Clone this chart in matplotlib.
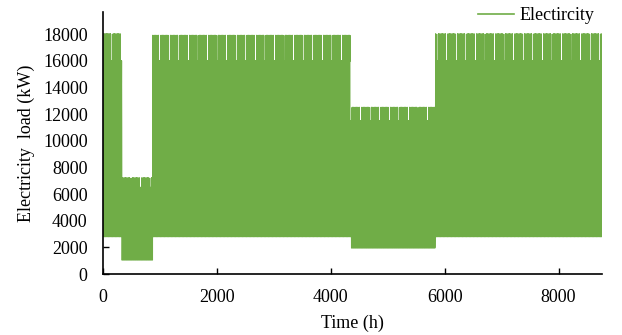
import numpy as np
import matplotlib.pyplot as plt

# periods of the year (hour ranges) with their load levels in kW
seg_start = [0, 330, 870, 4350, 5830]
seg_end = [330, 870, 4350, 5830, 8760]
seg_base = [2800, 1050, 2800, 1950, 2800]
seg_peak = [18000, 7200, 17900, 12500, 18000]
seg_weekend_peak = [16000, 6500, 16000, 11500, 16000]

# hourly shape of one day, as a fraction between base and peak
day_shape = [0, 0, 0, 0, 0, 0, 0.3, 0.62, 1.0, 1.0, 0.87, 1.0,
             0.87, 1.0, 1.0, 0.87, 0.87, 0.62, 0.3, 0, 0, 0, 0, 0]

xticks = [0, 2000, 4000, 6000, 8000]
yticks = [0, 2000, 4000, 6000, 8000, 10000, 12000, 14000, 16000, 18000]

hours = np.arange(8760)
load = np.zeros(8760)
for s, e, b, p, wp in zip(seg_start, seg_end, seg_base, seg_peak, seg_weekend_peak):
    for h in range(s, e):
        day = h // 24
        top = wp if day % 7 == 6 else p
        load[h] = b + day_shape[h % 24] * (top - b)

plt.rcParams['font.family'] = ['Liberation Serif', 'DejaVu Serif']
plt.rcParams['font.size'] = 13

fig = plt.figure(figsize=(6.22, 3.35), dpi=100)
ax = fig.add_axes([0.1656, 0.182, 0.802, 0.782])
ax.plot(hours, load, color='#70AD47', lw=0.8, label='Electircity')

ax.set_xlim(0, 8760)
ax.set_ylim(0, 19650)
ax.set_xticks(xticks)
ax.set_yticks(yticks)
ax.tick_params(direction='in', length=4, width=1, labelsize=13)
ax.tick_params(axis='x', pad=11)
ax.tick_params(axis='y', pad=11)
ax.spines['top'].set_visible(False)
ax.spines['right'].set_visible(False)
ax.spines['left'].set_linewidth(1.2)
ax.spines['bottom'].set_linewidth(1.2)
ax.set_xlabel('Time (h)', fontsize=13, labelpad=6)
ax.set_ylabel('Electricity  load (kW)', fontsize=13, labelpad=6)

leg = ax.legend(loc='upper right', bbox_to_anchor=(1.0, 1.045), frameon=False,
                handlelength=2.0, handletextpad=0.3, borderaxespad=0)
for line in leg.get_lines():
    line.set_linewidth(1.2)

fig.savefig('out.png', dpi=100)
